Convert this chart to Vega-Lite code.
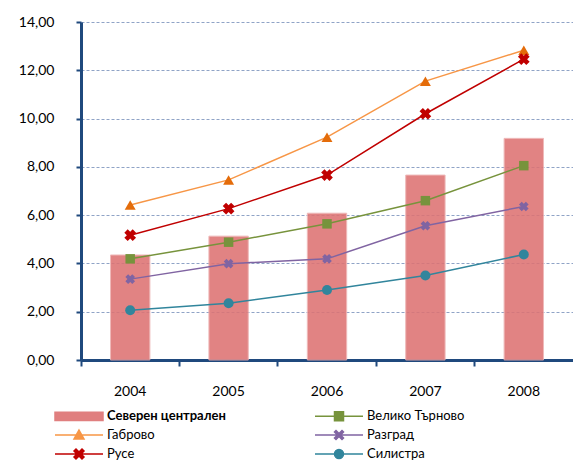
{
  "$schema": "https://vega.github.io/schema/vega-lite/v6.json",
  "width": 492,
  "height": 338,
  "autosize": {"type": "none"},
  "padding": {"left": 81, "top": 22, "right": 0, "bottom": 101},
  "background": "white",
  "config": {"view": {"stroke": null}, "font": "Lato"},
  "data": {"values": [
    {"series": "Северен централен", "year": "2004", "value": 4.35},
    {"series": "Северен централен", "year": "2005", "value": 5.13},
    {"series": "Северен централен", "year": "2006", "value": 6.08},
    {"series": "Северен централен", "year": "2007", "value": 7.66},
    {"series": "Северен централен", "year": "2008", "value": 9.18},
    {"series": "Велико Търново", "year": "2004", "value": 4.19},
    {"series": "Велико Търново", "year": "2005", "value": 4.88},
    {"series": "Велико Търново", "year": "2006", "value": 5.64},
    {"series": "Велико Търново", "year": "2007", "value": 6.60},
    {"series": "Велико Търново", "year": "2008", "value": 8.05},
    {"series": "Габрово", "year": "2004", "value": 6.42},
    {"series": "Габрово", "year": "2005", "value": 7.46},
    {"series": "Габрово", "year": "2006", "value": 9.23},
    {"series": "Габрово", "year": "2007", "value": 11.55},
    {"series": "Габрово", "year": "2008", "value": 12.83},
    {"series": "Разград", "year": "2004", "value": 3.35},
    {"series": "Разград", "year": "2005", "value": 3.99},
    {"series": "Разград", "year": "2006", "value": 4.19},
    {"series": "Разград", "year": "2007", "value": 5.56},
    {"series": "Разград", "year": "2008", "value": 6.36},
    {"series": "Русе", "year": "2004", "value": 5.17},
    {"series": "Русе", "year": "2005", "value": 6.27},
    {"series": "Русе", "year": "2006", "value": 7.66},
    {"series": "Русе", "year": "2007", "value": 10.20},
    {"series": "Русе", "year": "2008", "value": 12.46},
    {"series": "Силистра", "year": "2004", "value": 2.06},
    {"series": "Силистра", "year": "2005", "value": 2.35},
    {"series": "Силистра", "year": "2006", "value": 2.90},
    {"series": "Силистра", "year": "2007", "value": 3.50},
    {"series": "Силистра", "year": "2008", "value": 4.37}
  ]},
  "encoding": {
    "x": {"field": "year", "type": "nominal", "sort": null,
      "scale": {"paddingInner": 0, "paddingOuter": 0},
      "axis": {"title": null, "labelAngle": 0, "bandPosition": 0, "domainColor": "#1F497D", "domainWidth": 3,
        "tickColor": "#1F497D", "tickWidth": 2, "tickSize": 6, "labelPadding": 18,
        "labelFont": "Lato", "labelFontSize": 14, "labelColor": "#000000", "grid": false}},
    "y": {"field": "value", "type": "quantitative",
      "scale": {"domain": [0, 14], "nice": false},
      "axis": {"title": null, "values": [0, 2, 4, 6, 8, 10, 12, 14],
        "labelExpr": "replace(format(datum.value, '.2f'), '.', ',')",
        "domainColor": "#1F497D", "domainWidth": 3, "tickColor": "#1F497D", "tickWidth": 2, "tickSize": 5,
        "labelPadding": 22, "labelFont": "Lato", "labelFontSize": 14, "labelColor": "#000000",
        "grid": true, "gridColor": "#8FA3C6", "gridDash": [3, 2], "gridWidth": 1}}
  },
  "layer": [
    {
      "transform": [{"filter": "datum.series === 'Северен централен'"}],
      "mark": {"type": "bar", "width": {"band": 0.4}, "fill": "#DD7373", "opacity": 0.88, "stroke": "#EDB0B0", "strokeWidth": 1}
    },
    {
      "transform": [{"filter": "datum.series !== 'Северен централен'"}],
      "mark": {"type": "line", "strokeWidth": 1.5},
      "encoding": {"color": {"field": "series", "type": "nominal"}}
    },
    {
      "transform": [{"filter": "datum.series === 'Велико Търново'"}],
      "mark": {"type": "point", "shape": "square", "filled": true, "size": 90, "color": "#77933C", "opacity": 1}
    },
    {
      "transform": [{"filter": "datum.series === 'Габрово'"}],
      "mark": {"type": "point", "shape": "triangle-up", "filled": true, "size": 120, "color": "#E46C0A", "opacity": 1}
    },
    {
      "transform": [{"filter": "datum.series === 'Разград'"}],
      "mark": {"type": "point", "shape": "cross", "angle": 45, "filled": true, "size": 95, "color": "#8064A2", "opacity": 1}
    },
    {
      "transform": [{"filter": "datum.series === 'Русе'"}],
      "mark": {"type": "point", "shape": "cross", "angle": 45, "filled": true, "size": 140, "color": "#C00000", "opacity": 1}
    },
    {
      "transform": [{"filter": "datum.series === 'Силистра'"}],
      "mark": {"type": "point", "shape": "circle", "filled": true, "size": 100, "color": "#31859C", "opacity": 1}
    },
    {
      "mark": {"type": "point", "filled": true, "opacity": 0},
      "encoding": {
        "color": {"field": "series", "type": "nominal",
          "scale": {"domain": ["Северен централен", "Велико Търново", "Габрово", "Разград", "Русе", "Силистра"],
            "range": ["#E07F7F", "#77933C", "#F79646", "#8064A2", "#C00000", "#31859C"]},
          "legend": {"orient": "none", "direction": "horizontal", "legendX": -13, "legendY": 383, "columns": 2, "columnPadding": 86, "rowPadding": 0,
            "title": null, "symbolSize": 400, "symbolOpacity": 1, "labelFont": "Lato", "labelFontSize": 13, "labelColor": "#000000", "labelOffset": 17,
            "encode": {"symbols": {"update": {"fill": {"scale": "color", "field": "value"}, "stroke": {"scale": "color", "field": "value"}, "strokeWidth": {"value": 1.5}, "opacity": {"value": 1}}},
              "labels": {"update": {"fontWeight": {"signal": "datum.value === 'Северен централен' ? 'bold' : 'normal'"}}}}}},
        "shape": {"field": "series", "type": "nominal",
          "scale": {"domain": ["Северен централен", "Велико Търново", "Габрово", "Разград", "Русе", "Силистра"],
            "range": [
              "M-2.4,-0.42H2.4V0.42H-2.4Z",
              "M-2.4,0H2.4M-0.45,-0.45H0.45V0.45H-0.45Z",
              "M-2.4,0H2.4M0,-0.5L0.5,0.4H-0.5Z",
              "M-2.4,0H2.4M-0.45,-0.3L-0.3,-0.45L0,-0.15L0.3,-0.45L0.45,-0.3L0.15,0L0.45,0.3L0.3,0.45L0,0.15L-0.3,0.45L-0.45,0.3L-0.15,0Z",
              "M-2.4,0H2.4M-0.5,-0.3L-0.3,-0.5L0,-0.2L0.3,-0.5L0.5,-0.3L0.2,0L0.5,0.3L0.3,0.5L0,0.2L-0.3,0.5L-0.5,0.3L-0.2,0Z",
              "M-2.4,0H2.4M0.45,0A0.45,0.45,0,1,1,-0.45,0A0.45,0.45,0,1,1,0.45,0Z"
            ]},
          "legend": {"orient": "none", "direction": "horizontal", "legendX": -13, "legendY": 383, "columns": 2, "columnPadding": 86, "rowPadding": 0,
            "title": null, "symbolSize": 400, "symbolOpacity": 1, "labelFont": "Lato", "labelFontSize": 13, "labelColor": "#000000", "labelOffset": 17,
            "encode": {"symbols": {"update": {"fill": {"scale": "color", "field": "value"}, "stroke": {"scale": "color", "field": "value"}, "strokeWidth": {"value": 1.5}, "opacity": {"value": 1}}},
              "labels": {"update": {"fontWeight": {"signal": "datum.value === 'Северен централен' ? 'bold' : 'normal'"}}}}}}
      }
    }
  ]
}
